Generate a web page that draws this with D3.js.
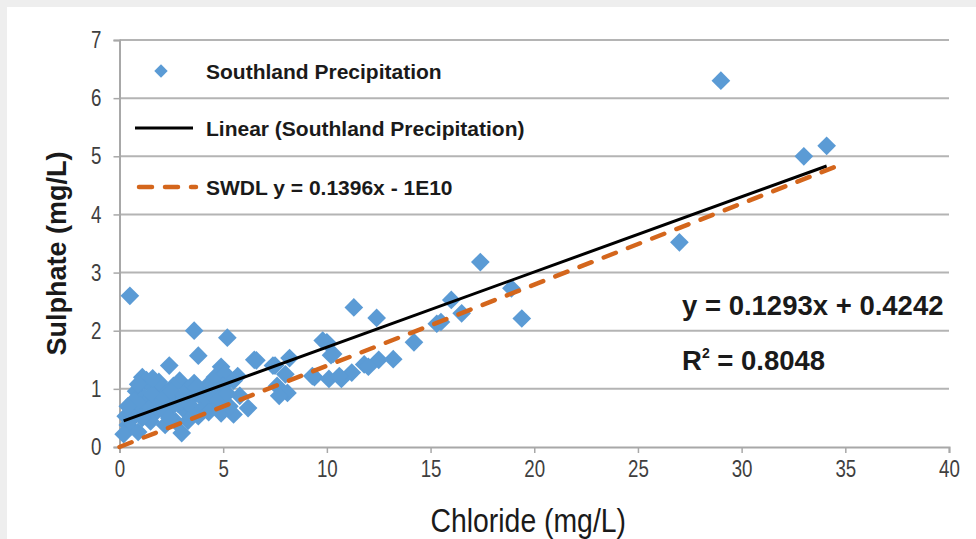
<!DOCTYPE html>
<html>
<head>
<meta charset="utf-8">
<script src="https://cdn.jsdelivr.net/npm/d3@7"></script>
<style>
  html, body { margin: 0; padding: 0; background: #eeeeee; }
  svg { display: block; }
</style>
</head>
<body>
<svg id="chart" width="976" height="539"></svg>
<script>
// Sulphate vs chloride in Southland precipitation samples (mg/L)
const chloride = [
  0.5, 3.6, 5.2, 3.8, 2.4, 6.5, 4.9, 7.4, 8.2, 9.8, 10.0, 10.2, 11.3, 12.4, 11.8, 12.5,
  13.2, 14.2, 15.3, 15.5, 16.0, 16.5, 17.4, 18.9, 19.4, 27.0, 29.0, 33.0, 34.1,
  10.3, 6.6, 7.5, 5.7, 7.6, 8.1, 7.7, 6.2, 5.5, 9.4, 10.1, 10.7, 11.2, 5.8, 12.0, 10.6,
  1.1, 1.5, 0.8, 1.2, 0.7, 0.3, 0.4, 0.2, 0.9, 1.7, 2.0, 2.4, 2.9, 3.3, 3.5, 4.0, 4.3,
  4.6, 5.1, 5.5, 4.4, 3.8, 4.9, 5.3, 3.0, 2.2, 2.7, 3.2, 1.5, 1.2, 1.0, 2.0, 2.6, 1.8,
  2.3, 3.6, 4.2, 4.7, 0.6, 1.4, 2.8, 3.4, 0.5, 8.0, 9.3,
  1.3, 1.6, 1.9, 2.1, 2.5, 3.1, 3.7, 4.1, 4.5, 5.0, 0.7, 1.0, 1.4, 1.8, 2.2, 2.6,
  3.0, 3.5, 3.9, 4.8, 0.9, 1.6, 2.4, 3.3, 4.3, 5.2, 0.4, 1.1
];
const sulphate = [
  2.6, 2.0, 1.88, 1.57, 1.4, 1.5, 1.38, 1.4, 1.53, 1.83, 1.8, 1.58, 2.4, 2.22, 1.42, 1.5,
  1.51, 1.8, 2.12, 2.15, 2.53, 2.3, 3.18, 2.73, 2.21, 3.52, 6.3, 5.0, 5.18,
  1.6, 1.49, 1.4, 1.22, 1.05, 0.93, 0.88, 0.67, 0.56, 1.2, 1.17, 1.17, 1.28, 0.88, 1.38, 1.22,
  1.2, 1.05, 0.96, 0.85, 0.67, 0.53, 0.38, 0.22, 0.26, 0.58, 0.76, 0.88, 1.14, 1.0, 0.85, 0.93, 1.08,
  1.2, 1.26, 1.14, 0.7, 0.53, 0.58, 0.7, 0.24, 0.38, 0.44, 0.61, 0.44, 0.61, 1.1, 1.0, 1.05, 0.9,
  0.95, 1.1, 0.98, 0.95, 0.55, 0.8, 0.75, 0.7, 0.45, 1.25, 1.22,
  1.15, 0.9, 1.12, 0.82, 0.95, 0.9, 1.02, 0.8, 0.9, 1.05, 0.8, 0.72, 0.65, 0.68, 0.6, 0.72,
  0.78, 0.68, 0.62, 0.82, 1.08, 1.18, 0.5, 0.45, 0.6, 0.92, 0.7, 0.5
];
const xTicks = [0, 5, 10, 15, 20, 25, 30, 35, 40];
const yTicks = [0, 1, 2, 3, 4, 5, 6, 7];

// Fitted trendline and the SWDL reference line
const fitSlope = 0.1293, fitIntercept = 0.4242;
const swdlSlope = 0.1396, swdlIntercept = -1e-10;
const swdlRange = [0, 34.5];

const points = chloride.map((c, i) => ({ x: c, y: sulphate[i] }));

const svg = d3.select("#chart");
const W = 976, H = 539;

// card background
svg.append("rect").attr("width", W).attr("height", H).attr("fill", "#eeeeee");
svg.append("rect").attr("x", 7).attr("y", 7).attr("width", W - 7).attr("height", H - 7).attr("fill", "#ffffff");

const x = d3.scaleLinear().domain([0, 40]).range([119.5, 949]);
const y = d3.scaleLinear().domain([0, 7]).range([447, 40]);

const sans = "'Liberation Sans', Arial, sans-serif";
const narrowScale = 0.78;

// horizontal gridlines
svg.append("g")
  .selectAll("line")
  .data(yTicks.filter(t => t > 0))
  .join("line")
  .attr("x1", x(0)).attr("x2", x(40))
  .attr("y1", d => y(d)).attr("y2", d => y(d))
  .attr("stroke", "#b4b4b4").attr("stroke-width", 2);

// axes
const yAxis = svg.append("g")
  .attr("transform", `translate(${x(0)},0)`)
  .call(d3.axisLeft(y).tickValues(yTicks).tickSize(6).tickPadding(12).tickFormat(d3.format("d")));
const xAxis = svg.append("g")
  .attr("transform", `translate(0,${y(0)})`)
  .call(d3.axisBottom(x).tickValues(xTicks).tickSize(6).tickPadding(7).tickFormat(d3.format("d")));

[yAxis, xAxis].forEach(g => {
  g.select(".domain").attr("stroke", "#a8a8a8").attr("stroke-width", 2);
  g.selectAll(".tick line").attr("stroke", "#a8a8a8").attr("stroke-width", 1.5);
  g.selectAll(".tick text")
    .attr("fill", "#3f3f3f")
    .style("font-family", sans)
    .style("font-size", "24px");
});
// condensed tick digits: squeeze glyphs horizontally, keep anchor position
xAxis.selectAll(".tick text").attr("transform", `scale(${narrowScale},1)`);
yAxis.selectAll(".tick text")
  .attr("x", -18 / narrowScale)
  .attr("transform", `scale(${narrowScale},1)`);

// scatter markers (diamonds)
const diamond = d3.symbol().type(d3.symbolSquare).size(175);
svg.append("g")
  .selectAll("path")
  .data(points)
  .join("path")
  .attr("d", diamond)
  .attr("transform", d => `translate(${x(d.x)},${y(d.y)}) rotate(45)`)
  .attr("fill", "#5b9bd5");

// linear trendline over the sampled range
const xMin = d3.min(chloride), xMax = d3.max(chloride);
svg.append("line")
  .attr("x1", x(xMin)).attr("y1", y(fitSlope * xMin + fitIntercept))
  .attr("x2", x(xMax)).attr("y2", y(fitSlope * xMax + fitIntercept))
  .attr("stroke", "#000000").attr("stroke-width", 3);

// SWDL line
svg.append("line")
  .attr("x1", x(swdlRange[0])).attr("y1", y(swdlSlope * swdlRange[0] + swdlIntercept))
  .attr("x2", x(swdlRange[1])).attr("y2", y(swdlSlope * swdlRange[1] + swdlIntercept))
  .attr("stroke", "#d4661c").attr("stroke-width", 4.5)
  .attr("stroke-dasharray", "13 13").attr("stroke-linecap", "round");

// legend
const legend = svg.append("g");
legend.append("path")
  .attr("d", d3.symbol().type(d3.symbolSquare).size(90))
  .attr("transform", "translate(161,71) rotate(45)")
  .attr("fill", "#5b9bd5");
legend.append("line")
  .attr("x1", 135).attr("x2", 193).attr("y1", 128).attr("y2", 128)
  .attr("stroke", "#000").attr("stroke-width", 3);
legend.append("line")
  .attr("x1", 139).attr("x2", 196).attr("y1", 187).attr("y2", 187)
  .attr("stroke", "#d4661c").attr("stroke-width", 4.5)
  .attr("stroke-dasharray", "13 13").attr("stroke-linecap", "round");
const legendLabels = ["Southland Precipitation", "Linear (Southland Precipitation)", "SWDL y = 0.1396x - 1E10"];
legend.selectAll("text")
  .data(legendLabels)
  .join("text")
  .attr("x", 206)
  .attr("y", (d, i) => [71, 128, 187][i])
  .attr("dy", "0.36em")
  .attr("fill", "#1a1a1a")
  .style("font-family", sans)
  .style("font-weight", "bold")
  .style("font-size", "21px")
  .text(d => d);

// trendline equation and R²
svg.append("text")
  .attr("x", 682).attr("y", 315)
  .attr("fill", "#1a1a1a")
  .style("font-family", sans).style("font-weight", "bold").style("font-size", "27.5px")
  .text(`y = ${fitSlope}x + ${fitIntercept}`);
const r2 = svg.append("text")
  .attr("x", 682).attr("y", 370)
  .attr("fill", "#1a1a1a")
  .style("font-family", sans).style("font-weight", "bold").style("font-size", "27.5px");
r2.append("tspan").text("R");
r2.append("tspan").attr("dy", -12).style("font-size", "14px").text("2");
r2.append("tspan").attr("dy", 12).text(" = 0.8048");

// axis titles
svg.append("text")
  .attr("transform", `translate(${(x(0) + x(40)) / 2 - 6},532) scale(0.86,1)`)
  .attr("text-anchor", "middle")
  .attr("fill", "#1a1a1a")
  .style("font-family", sans).style("font-size", "33px")
  .text("Chloride (mg/L)");
svg.append("text")
  .attr("transform", `translate(66,${(y(0) + y(7)) / 2 + 10}) rotate(-90)`)
  .attr("text-anchor", "middle")
  .attr("fill", "#1a1a1a")
  .style("font-family", sans).style("font-weight", "bold").style("font-size", "27px")
  .text("Sulphate (mg/L)");
</script>
</body>
</html>
